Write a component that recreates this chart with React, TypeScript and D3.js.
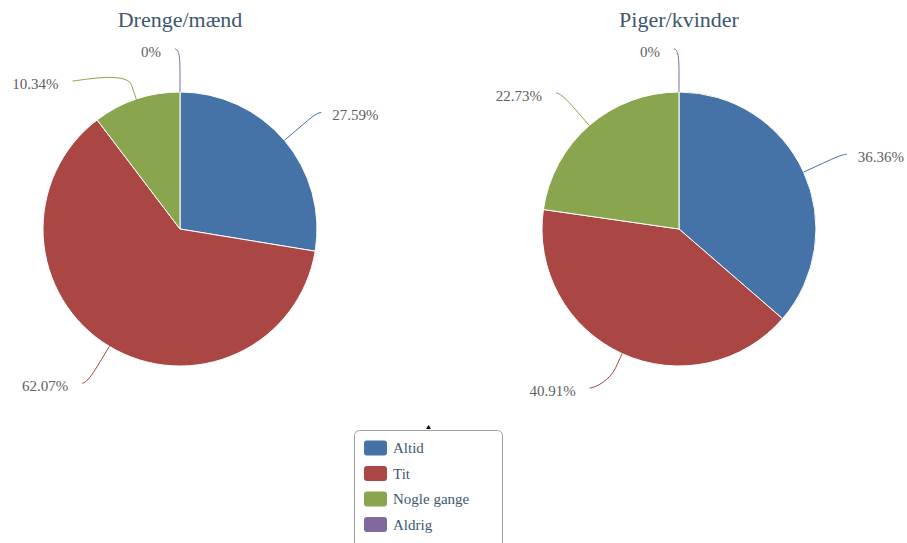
import React from "react";
import * as d3 from "d3";

const categories = ["Altid", "Tit", "Nogle gange", "Aldrig"];
const colors = ["#4572A7", "#AA4643", "#89A54E", "#80699B"];
const chartTitles = ["Drenge/mænd", "Piger/kvinder"];
const boysValues = [27.59, 62.07, 10.34, 0];
const girlsValues = [36.36, 40.91, 22.73, 0];
const labelTexts = [
  ["27.59%", "62.07%", "10.34%", "0%"],
  ["36.36%", "40.91%", "22.73%", "0%"],
];

const W = 907;
const H = 543;
const R = 137;
const DIST = 43;
const BREAK = 15;
const CY = 229;
const MAX_LABEL_Y = 388;
const centersX = [180, 679];
const FONT = "Liberation Serif, Tinos, Times New Roman, DejaVu Serif, serif";

type Lab = { i: number; a: number; left: boolean; y: number; x: number };

function Pie({ cx, values, title, texts }: { cx: number; values: number[]; title: string; texts: string[] }) {
  const pie = d3.pie<number>().sort(null).value((d) => d).startAngle(0).endAngle(2 * Math.PI);
  const arcs = pie(values);
  const arc = d3.arc<d3.PieArcDatum<number>>().innerRadius(0).outerRadius(R);
  const LR = R + DIST;

  const labs: Lab[] = arcs.map((a, i) => {
    const mid = (a.startAngle + a.endAngle) / 2;
    const left = mid >= Math.PI;
    return { i, a: mid, left, y: Math.min(MAX_LABEL_Y, CY - Math.cos(mid) * LR), x: 0 };
  });
  [true, false].forEach((side) => {
    const s = labs.filter((l) => l.left === side).sort((p, q) => p.y - q.y);
    for (let k = 1; k < s.length; k++) {
      if (s[k].y < s[k - 1].y + 32) s[k].y = s[k - 1].y + 32;
    }
  });
  labs.forEach((l) => {
    const dy = Math.max(-LR, Math.min(LR, l.y - CY));
    const dx = Math.sqrt(LR * LR - dy * dy) + (l.left ? 5 : 4);
    l.x = cx + (l.left ? -dx : dx);
  });

  return (
    <g>
      <text x={cx} y={27} textAnchor="middle" style={{ fontFamily: FONT, fontSize: 22 }} fill="#3E576F">
        {title}
      </text>
      <g transform={`translate(${cx},${CY})`}>
        {arcs.map((a, i) =>
          a.endAngle - a.startAngle > 0 ? (
            <path key={i} d={arc(a) || ""} fill={colors[i]} stroke="#fff" strokeWidth={1} />
          ) : null
        )}
      </g>
      {labs.map((l) => {
        const tx = cx + Math.sin(l.a) * R;
        const ty = CY - Math.cos(l.a) * R;
        const bx = cx + Math.sin(l.a) * (R + BREAK);
        const by = CY - Math.cos(l.a) * (R + BREAK);
        const c1x = l.x + (l.left ? 5 : -5);
        const d = `M${l.x},${l.y} C${c1x},${l.y} ${2 * bx - tx},${2 * by - ty} ${bx},${by} L${tx},${ty}`;
        return (
          <g key={l.i}>
            <path d={d} fill="none" stroke={colors[l.i]} strokeWidth={1} />
            <text
              x={l.left ? l.x - 14 : l.x + 11}
              y={l.y + 8}
              textAnchor={l.left ? "end" : "start"}
              style={{ fontFamily: FONT, fontSize: 15 }}
              fill="#606060"
            >
              {texts[l.i]}
            </text>
          </g>
        );
      })}
    </g>
  );
}

export default function App() {
  const legendX = 354.5;
  const legendY = 430.5;
  const itemY = d3.scaleLinear().domain([0, 1]).range([448, 473.5]);
  return (
    <svg
      width={W}
      height={H}
      style={{ position: "absolute", left: 0, top: 0, background: "#fff" }}
      xmlns="http://www.w3.org/2000/svg"
    >
      <rect x={0} y={0} width={W} height={H} fill="#fff" />
      <Pie cx={centersX[0]} values={boysValues} title={chartTitles[0]} texts={labelTexts[0]} />
      <Pie cx={centersX[1]} values={girlsValues} title={chartTitles[1]} texts={labelTexts[1]} />
      <path d="M426,429 L428.5,425 L431,429 Z" fill="#000" />
      <rect x={legendX} y={legendY} width={148} height={130} rx={5} fill="#fff" stroke="#a0a0a0" strokeWidth={1} />
      {categories.map((c, i) => (
        <g key={c}>
          <rect x={364} y={itemY(i) - 7.5} width={23} height={15} rx={3} fill={colors[i]} />
          <text x={393} y={itemY(i) + 5} style={{ fontFamily: FONT, fontSize: 15 }} fill="#3E576F">
            {c}
          </text>
        </g>
      ))}
    </svg>
  );
}
